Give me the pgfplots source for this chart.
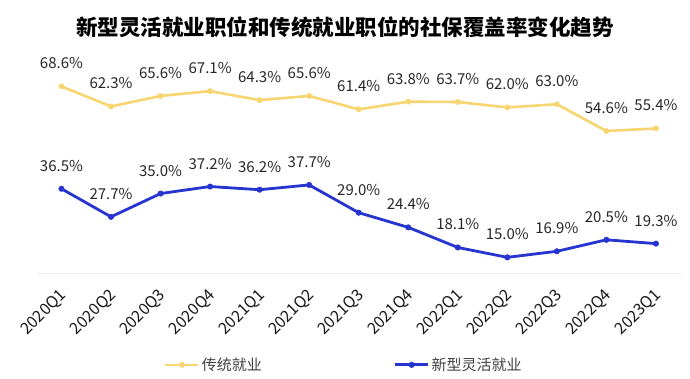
\documentclass[border=0pt]{standalone}
\usepackage{fontspec}
\setmainfont{Noto Sans CJK SC}
\usepackage{pgfplots}
\pgfplotsset{compat=1.18}
\definecolor{cyel}{RGB}{247,213,112}
\definecolor{cblu}{RGB}{38,52,208}
\begin{document}
\begin{tikzpicture}
\useasboundingbox (0,0) rectangle (690pt,379pt);
\node[font=\fontsize{21.5}{24}\selectfont\bfseries] at (345pt,352pt) {新型灵活就业职位和传统就业职位的社保覆盖率变化趋势};
\begin{axis}[
  at={(36.7pt,105.7pt)}, anchor=south west,
  scale only axis, width=644pt, height=223.3pt,
  xmin=-0.5, xmax=12.5, ymin=10, ymax=80,
  axis x line*=bottom, axis y line=none,
  x axis line style={draw=black!8, line width=1.4pt, -},
  xtick={0,...,12},
  xticklabels={2020Q1,2020Q2,2020Q3,2020Q4,2021Q1,2021Q2,2021Q3,2021Q4,2022Q1,2022Q2,2022Q3,2022Q4,2023Q1},
  xtick style={draw=none},
  x tick label style={font=\fontsize{16}{19}\selectfont, text=black!90, xshift=5pt, yshift=-17pt, rotate=45, anchor=east},
  /pgf/number format/assume math mode=true,
  nodes near coords={\pgfmathprintnumber[fixed,fixed zerofill,precision=1]{\pgfplotspointmeta}\%},
  every node near coord/.append style={font=\fontsize{15}{18}\selectfont, anchor=center, yshift=23pt, text=black!85},
  legend style={draw=none, fill=none, at={(0.477,-0.41)}, anchor=center, legend columns=2,
    font=\fontsize{15}{18}\selectfont, text=black!75,
    /tikz/every even column/.append style={column sep=130pt}},
  legend image code/.code={\draw[mark repeat=2,mark phase=2,#1] plot coordinates {(0pt,0pt) (16.5pt,0pt) (33pt,0pt)};},
  clip=false,
]
\addplot[cyel, line width=2.6pt, mark=*, mark size=2.6pt, mark options={solid, line width=0.6pt}] coordinates {
(0,68.6) (1,62.3) (2,65.6) (3,67.1) (4,64.3) (5,65.6) (6,61.4) (7,63.8) (8,63.7) (9,62.0) (10,63.0) (11,54.6) (12,55.4)};
\addlegendentry{传统就业}
\addplot[cblu, line width=2.8pt, mark=*, mark size=2.7pt, mark options={solid, line width=0.6pt}] coordinates {
(0,36.5) (1,27.7) (2,35.0) (3,37.2) (4,36.2) (5,37.7) (6,29.0) (7,24.4) (8,18.1) (9,15.0) (10,16.9) (11,20.5) (12,19.3)};
\addlegendentry{新型灵活就业}
\end{axis}
\end{tikzpicture}
\end{document}
